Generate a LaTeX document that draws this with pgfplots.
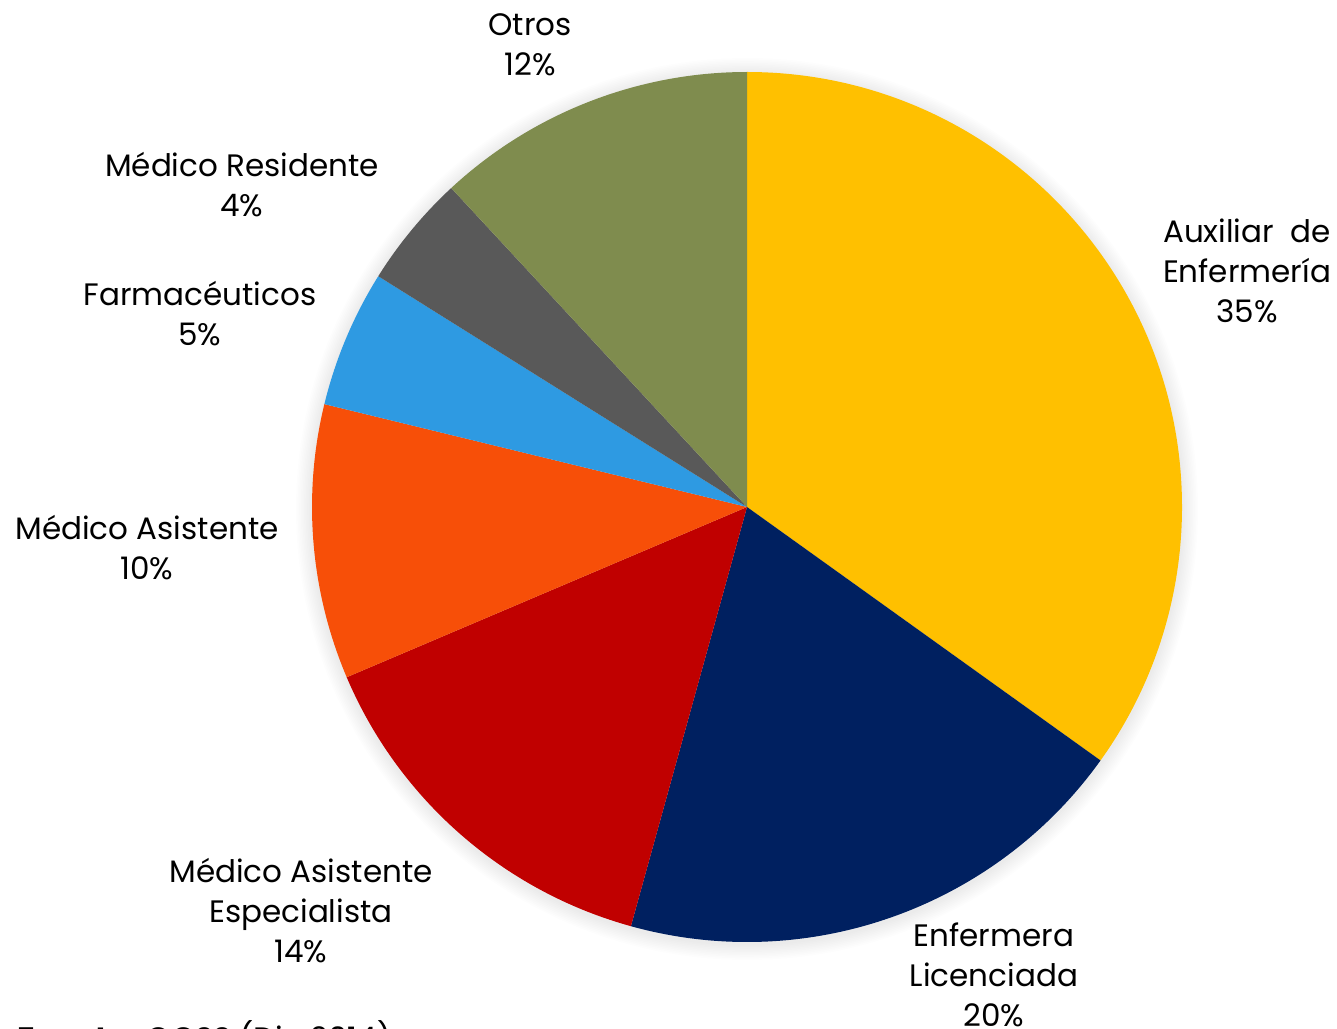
\documentclass[border=0pt]{standalone}
\usepackage{pgfplots}
\pgfplotsset{compat=1.18}
\usepackage{pgfplotstable}
\usepackage{fontspec}
\setmainfont{Poppins}

\definecolor{cAux}{HTML}{FFC000}
\definecolor{cEnf}{HTML}{002060}
\definecolor{cEsp}{HTML}{C00000}
\definecolor{cAsi}{HTML}{F74F08}
\definecolor{cFar}{HTML}{2E9AE2}
\definecolor{cRes}{HTML}{595959}
\definecolor{cOtr}{HTML}{7F8C4E}

% share of staff (%), clockwise from the top
\pgfplotstableread[col sep=comma]{
name,val,col
Auxiliar de Enfermeria,34.9,cAux
Enfermera Licenciada,19.4,cEnf
Medico Asistente Especialista,14.3,cEsp
Medico Asistente,10.2,cAsi
Farmaceuticos,5.1,cFar
Medico Residente,4.2,cRes
Otros,11.9,cOtr
}\slices

\begin{document}
\begin{tikzpicture}[x=0.5pt,y=0.5pt,
  lbl/.style={align=center,font=\fontsize{15.5}{20}\selectfont,inner sep=0pt}]
\path[use as bounding box] (0,0) rectangle (1337,1028);
\clip (0,0) rectangle (1337,1028);
\coordinate (C) at (747,521);
% soft shadow round the pie
\foreach \k in {1,...,10}{
  \fill[black,opacity=0.008] (747,519) circle[radius={435+1.6*\k}];
}
\begin{axis}[hide axis, scale only axis, width=435pt, height=435pt,
  xmin=-1,xmax=1,ymin=-1,ymax=1, at={(C)}, anchor=center, clip=false]
\pgfmathsetmacro\ang{90}
\global\let\ang\ang
\pgfplotsinvokeforeach{0,...,6}{
  \pgfplotstablegetelem{#1}{val}\of\slices \let\sliceval\pgfplotsretval
  \pgfplotstablegetelem{#1}{col}\of\slices \let\slicecol\pgfplotsretval
  \pgfmathsetmacro\angb{\ang-3.6*\sliceval}
  \edef\temp{\noexpand\fill[\slicecol] (axis cs:0,0) -- (axis cs:{cos(\ang)},{sin(\ang)})
    arc[start angle=\ang, end angle=\angb, radius=217.5pt] -- cycle;}
  \temp
  \global\let\ang\angb
}
\end{axis}
\node[lbl] at (530,1028-45) {Otros\\12\%};
\node[lbl] at (242,1028-185) {Médico Residente\\4\%};
\node[lbl] at (200,1028-314) {Farmacéuticos\\5\%};
\node[lbl] at (147,1028-548) {Médico Asistente\\10\%};
\node[lbl] at (301,1028-911) {Médico Asistente\\Especialista\\14\%};
\node[lbl] at (994,1028-975) {Enfermera\\Licenciada\\20\%};
\node[lbl] at (1247,1028-271) {Auxiliar\ \ de\\Enfermería\\35\%};
\node[anchor=base west,inner sep=0pt,font=\fontsize{15.5}{20}\selectfont] at (17,-21)
  {\textbf{Fuente:} OGSS (Dic 2014)};
\end{tikzpicture}
\end{document}
